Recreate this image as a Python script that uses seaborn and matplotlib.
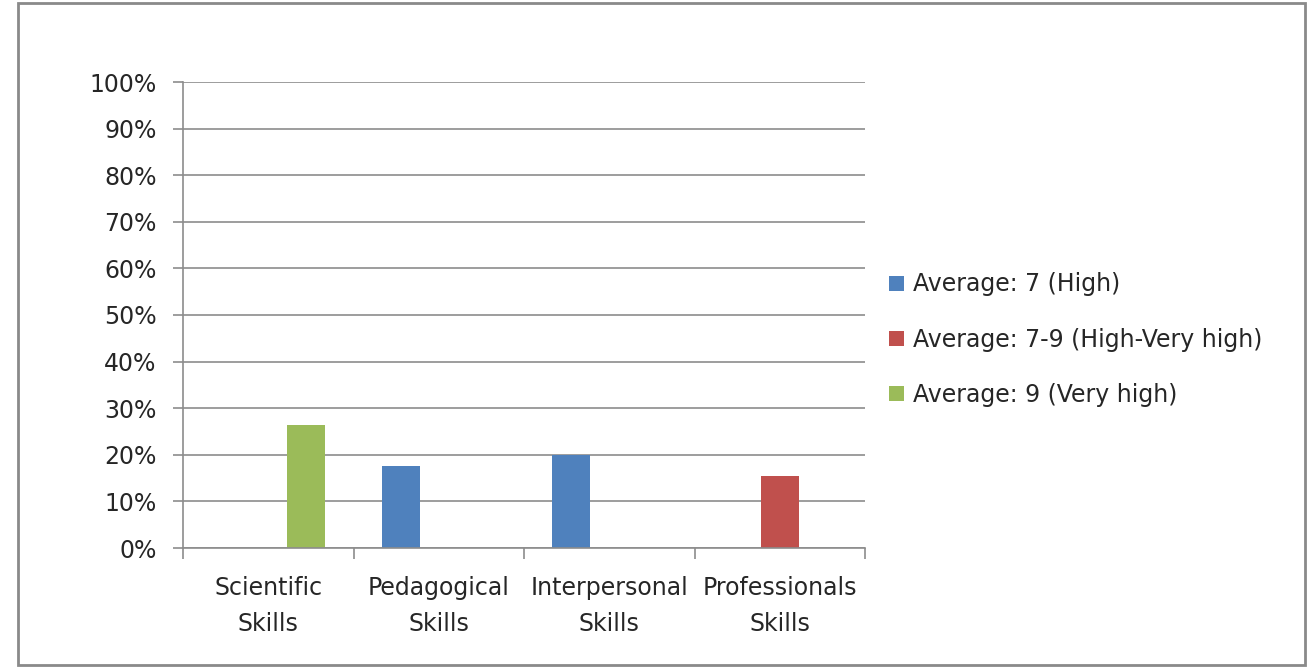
import matplotlib
matplotlib.use("Agg")
import matplotlib.pyplot as plt
from matplotlib.patches import Rectangle, Patch
from matplotlib.ticker import FixedLocator, PercentFormatter
import seaborn as sns
import pandas as pd

categories = ["Scientific\nSkills", "Pedagogical\nSkills", "Interpersonal\nSkills", "Professionals\nSkills"]
series = ["Average: 7 (High)", "Average: 7-9 (High-Very high)", "Average: 9 (Very high)"]
high = [0, 17.6, 20.0, 0]
high_very_high = [0, 0, 0, 15.5]
very_high = [26.5, 0, 0, 0]
colors = ["#4F81BD", "#C0504D", "#9BBB59"]

rows = []
for s, vals in zip(series, [high, high_very_high, very_high]):
    for c, v in zip(categories, vals):
        rows.append({"category": c, "series": s, "value": v})
df = pd.DataFrame(rows)

sns.set_theme(style="white")
plt.rcParams["font.family"] = ["DejaVu Sans"]

FS = 17

fig = plt.figure(figsize=(13.15, 6.7), dpi=100)
ax = fig.add_axes([183/1315, 1-548/670, (865-183)/1315, (548-82)/670])

sns.barplot(data=df, x="category", y="value", hue="series", hue_order=series,
            palette=colors, width=0.667, ax=ax, linewidth=0, saturation=1,
            legend=False, errorbar=None)

ax.set_ylim(0, 100)
ax.set_xlim(-0.5, 3.5)
ax.yaxis.set_major_locator(FixedLocator(list(range(0, 101, 10))))
ax.yaxis.set_major_formatter(PercentFormatter(decimals=0))
ax.grid(axis="y", color="#8c8c8c", linewidth=1.2)
ax.set_axisbelow(True)
for side in ["top", "right"]:
    ax.spines[side].set_visible(False)
for side in ["left", "bottom"]:
    ax.spines[side].set_color("#8c8c8c")
    ax.spines[side].set_linewidth(1.2)

ax.tick_params(axis="y", which="major", left=True, length=7, width=1.2, color="#8c8c8c",
               labelsize=FS, labelcolor="#262626", pad=12)
ax.set_xticks(range(len(categories)))
ax.set_xticklabels(categories, linespacing=1.65)
ax.tick_params(axis="x", which="major", length=0, labelsize=FS, labelcolor="#262626", pad=20)
ax.set_xticks([-0.5, 0.5, 1.5, 2.5, 3.5], minor=True)
ax.tick_params(axis="x", which="minor", bottom=True, length=8, width=1.2, color="#8c8c8c")
ax.set_xlabel("")
ax.set_ylabel("")

handles = [Patch(facecolor=c, edgecolor="none") for c in colors]
leg = fig.legend(handles, series, loc="upper left", bbox_to_anchor=(880/1315, 1-263/670),
                 frameon=False, fontsize=FS, handlelength=0.6, handleheight=0.6,
                 handletextpad=0.4, labelspacing=1.33, borderaxespad=0)
for t in leg.get_texts():
    t.set_color("#262626")

fig.patches.append(Rectangle((18/1315, 5/670), (1305-18)/1315, (667-5)/670,
                             transform=fig.transFigure, fill=False,
                             edgecolor="#8a8a8a", linewidth=2))

fig.savefig("out.png", dpi=100, facecolor="white")
